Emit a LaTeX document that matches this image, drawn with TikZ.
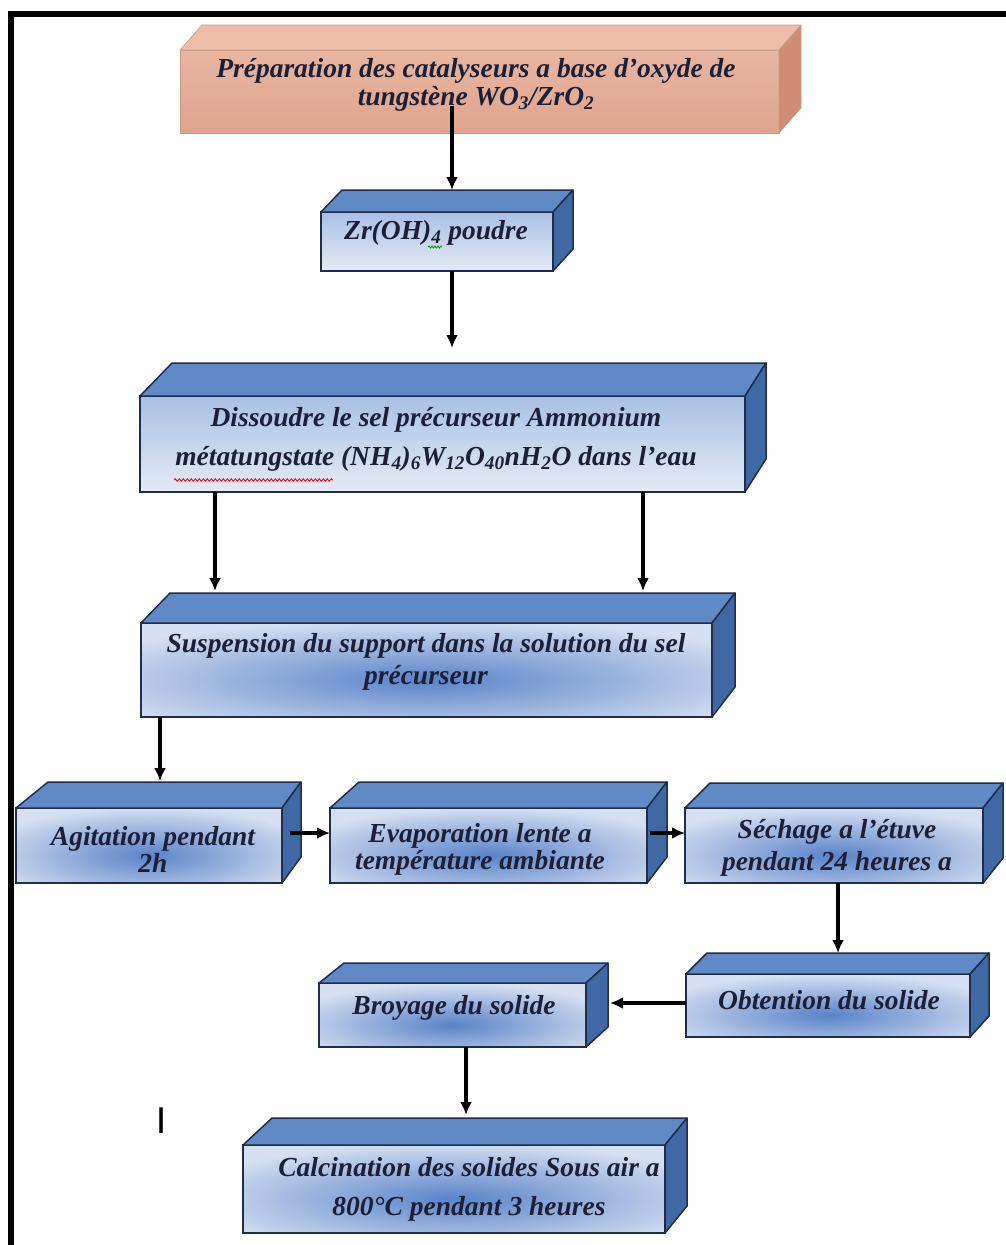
\documentclass[tikz,border=0pt]{standalone}
\usepackage{fontspec}
\setmainfont{Liberation Serif}
\newfontfamily\markfont{Carlito}
\usetikzlibrary{calc,arrows.meta,decorations.pathmorphing}
\definecolor{faceC}{HTML}{D6E0F1}
\definecolor{spotC}{HTML}{5A83C8}
\definecolor{topC}{HTML}{6089C5}
\definecolor{sideC}{HTML}{3F68A5}
\definecolor{edgeC}{HTML}{1F2D4A}
\definecolor{gradTop}{HTML}{A9C0E3}
\definecolor{gradBot}{HTML}{E4EBF6}
\definecolor{salFaceT}{HTML}{E8B5A0}
\definecolor{salFaceB}{HTML}{DFA58E}
\definecolor{salTop}{HTML}{ECBDA9}
\definecolor{salSide}{HTML}{CD8E75}
\definecolor{salEdge}{HTML}{C99A86}
\definecolor{txtC}{HTML}{1B2038}
\tikzset{
  basebox/.style={anchor=north west, inner sep=0pt, outer sep=0pt, rectangle},
  bs face/.style={basebox, draw=edgeC, line width=1.5pt, fill=faceC,
     path picture={\shade[inner color=spotC, outer color=faceC]
        ($(path picture bounding box.south west)!-0.15!(path picture bounding box.north east)+(0,10)$) rectangle
        ($(path picture bounding box.north east)!-0.15!(path picture bounding box.south west)+(0,10)$);}},
  bg face/.style={basebox, draw=edgeC, line width=1.5pt, top color=gradTop, bottom color=gradBot},
  sal face/.style={basebox, draw=salEdge, line width=0.6pt, top color=salFaceT, bottom color=salFaceB},
  bs top/.style={draw=edgeC, line width=1.5pt, line join=round, fill=topC},
  bs side/.style={draw=edgeC, line width=1.5pt, line join=round, fill=sideC},
  bg top/.style={bs top},
  bg side/.style={bs side},
  sal top/.style={draw=salEdge, line width=0.6pt, line join=round, fill=salTop},
  sal side/.style={draw=salEdge, line width=0.6pt, line join=round, fill=salSide},
  txt/.style={font=\fontsize{27.5}{#1}\selectfont\bfseries\itshape, text=txtC, align=center, inner sep=0pt},
  txt/.default=30,
  arr/.style={draw=black, line width=3.2pt, -{Latex[length=13pt,width=12pt]}},
  wave/.style={line width=0.9pt, decorate, decoration={snake, amplitude=1.2pt, segment length=4pt}}
}
\newcommand\mycube[9]{%
  \node[#9 face, minimum width={#4pt-#2pt}, minimum height={#5pt-#3pt}] (#1) at (#2,#3) {};
  \filldraw[#9 top] (#1.north west) -- ++(#6,-#8) -- ($(#1.north east)+(#7,-#8)$) -- (#1.north east) -- cycle;
  \filldraw[#9 side] (#1.north east) -- ++(#7,-#8) -- ($(#1.south east)+(#7,-#8)$) -- (#1.south east) -- cycle;
  \coordinate (#1top) at ($(#1.north)+(0,-#8)$);
}
\begin{document}
\begin{tikzpicture}[x=1pt,y=-1pt]
\useasboundingbox (0,0) rectangle (1006,1245);
\fill[white] (0,0) rectangle (1006,1245);
% frame
\fill[black] (8,11) rectangle (14,1245);
\fill[black] (8,11) rectangle (1006,17);

% boxes
\mycube{b1}{180}{50}{779}{133}{22}{22}{25}{sal}
\mycube{b2}{321}{212}{553}{271}{21}{20}{22}{bg}
\mycube{b3}{140}{396}{745}{492}{32}{21}{33}{bg}
\mycube{b4}{141}{623}{712}{717}{29}{23}{30}{bs}
\mycube{b5}{16}{808}{282}{883}{32}{19}{26}{bs}
\mycube{b6}{330}{808}{647}{883}{29}{20}{26}{bs}
\mycube{b7}{685}{808}{983}{883}{25}{20}{25}{bs}
\mycube{b8}{686}{974}{970}{1037}{21}{19}{21}{bs}
\mycube{b9}{319}{983}{586}{1047}{25}{22}{20}{bs}
\mycube{b10}{243}{1145}{665}{1233}{29}{22}{27}{bs}

% texts
\node[txt=28] (t1) at (476,85) {Préparation des catalyseurs a base d’oxyde de\\tungstène WO\textsubscript{3}/ZrO\textsubscript{2}};
\node[txt] (t2) at (436,233) {Zr(OH)\textsubscript{4} poudre};
\node[txt=39] (t3) at (436,439) {Dissoudre le sel précurseur Ammonium\\métatungstate (NH\textsubscript{4})\textsubscript{6}W\textsubscript{12}O\textsubscript{40}nH\textsubscript{2}O dans l’eau};
\node[txt=32] (t4) at (426,662) {Suspension du support dans la solution du sel\\précurseur};
\node[txt=27] (t5) at (153,849) {Agitation pendant\\2h};
\node[txt=27] (t6) at (480,849) {Evaporation lente a\\température ambiante};
\node[txt=32] (t7) at (837,848) {Séchage a l’étuve\\pendant 24 heures a};
\node[txt] (t8) at (829,1000) {Obtention du solide};
\node[txt] (t9) at (454,1008) {Broyage du solide};
\node[txt=39] (t10) at (469,1189) {Calcination des solides Sous air a\\800°C pendant 3 heures};

% spell-check marks
\draw[wave, red] (174,480) -- (333,480);
\draw[wave, green!55!black, line width=0.8pt, decoration={snake, amplitude=1pt, segment length=3pt}] (428,247) -- (442,247);

% stray mark
\node[font=\markfont\fontsize{40}{40}\selectfont, inner sep=0pt] (mk) at (162,1121) {I};

% connectors
\coordinate (c1) at (452,0);
\coordinate (c3) at (215,0);
\coordinate (c3b) at (643,0);
\coordinate (c4) at (160,0);
\coordinate (r1) at (0,833);
\coordinate (c7) at (838,0);
\coordinate (r2) at (0,1003);
\coordinate (c9) at (466,0);
\draw[arr] ($(t1.south -| c1)+(0,-6)$) -- (b2top -| c1);
\draw[arr] (b2.south -| c1) -- ($(b3top -| c1)+(0,-15)$);
\draw[arr] (b3.south -| c3) -- ($(b4top -| c3)+(0,-2)$);
\draw[arr] (b3.south -| c3b) -- ($(b4top -| c3b)+(0,-2)$);
\draw[arr] (b4.south -| c4) -- ($(b5top -| c4)+(0,-1)$);
\draw[arr] ($(b5.east |- r1)+(8,0)$) -- (b6.west |- r1);
\draw[arr] ($(b6.east |- r1)+(3,0)$) -- (b7.west |- r1);
\draw[arr] (b7.south -| c7) -- (b8top -| c7);
\draw[arr] (b8.west |- r2) -- ($(b9.east |- r2)+(24,0)$);
\draw[arr] (b9.south -| c9) -- ($(b10top -| c9)+(0,-3)$);
\end{tikzpicture}
\end{document}
